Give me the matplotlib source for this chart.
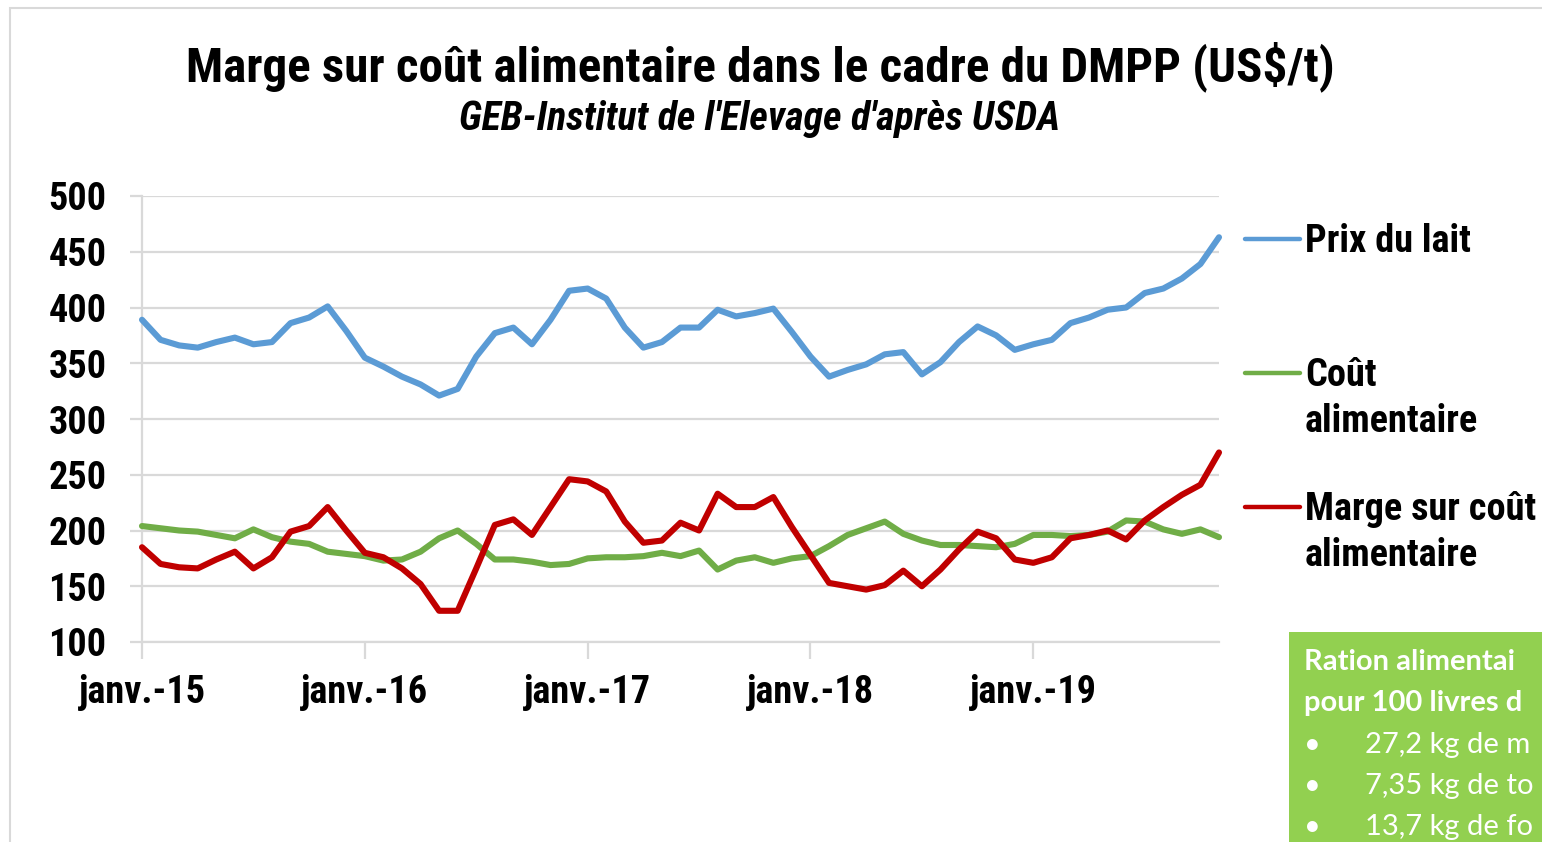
import matplotlib
matplotlib.use("Agg")
import matplotlib.pyplot as plt
from matplotlib import font_manager
from matplotlib.font_manager import FontProperties
from matplotlib.lines import Line2D
from matplotlib.patches import Rectangle

# ---------------- data ----------------
tick_labels = ["janv.-15", "janv.-16", "janv.-17", "janv.-18", "janv.-19"]
n_months = 59  # janv.-15 .. nov.-19

prix_lait = [389, 371, 366, 364, 369, 373, 367, 369, 386, 391, 401, 379,
             355, 347, 338, 331, 321, 327, 356, 377, 382, 367, 389, 415,
             417, 408, 382, 364, 369, 382, 382, 398, 392, 395, 399, 378,
             356, 338, 344, 349, 358, 360, 340, 351, 369, 383, 375, 362,
             367, 371, 386, 391, 398, 400, 413, 417, 426, 439, 463]

cout_alim = [204, 202, 200, 199, 196, 193, 201, 194, 190, 188, 181, 179,
             177, 173, 174, 181, 193, 200, 188, 174, 174, 172, 169, 170,
             175, 176, 176, 177, 180, 177, 182, 165, 173, 176, 171, 175,
             177, 186, 196, 202, 208, 197, 191, 187, 187, 186, 185, 188,
             196, 196, 195, 196, 199, 209, 208, 201, 197, 201, 194]

marge = [185, 170, 167, 166, 174, 181, 166, 176, 199, 204, 221, 200,
         180, 176, 166, 152, 128, 128, 166, 205, 210, 196, 221, 246,
         244, 235, 208, 189, 191, 207, 200, 233, 221, 221, 230, 203,
         178, 153, 150, 147, 151, 164, 150, 165, 183, 199, 193, 174,
         171, 176, 193, 196, 200, 192, 209, 221, 232, 241, 270]

series_names = ["Prix du lait", "Coût\nalimentaire", "Marge sur coût\nalimentaire"]
series_colors = ["#5B9BD5", "#70AD47", "#C00000"]

# the info box is cut by the right edge of the picture: only the visible part is shown
box_title = ["Ration alimentai", "pour 100 livres d"]
box_items = ["27,2 kg de m", "7,35 kg de to", "13,7 kg de fo"]

# ---------------- fonts ----------------
def find_narrow(bold=True, italic=False):
    prefs = ["Liberation Sans Narrow", "Arial Narrow", "Roboto Condensed",
             "Noto Sans Condensed", "Noto Sans", "DejaVu Sans Condensed",
             "DejaVu Sans", "Open Sans Condensed", "Open Sans"]
    cands = []
    for f in font_manager.fontManager.ttflist:
        fname = f.fname.lower()
        name = f.name
        if ("semicondensed" in fname or "extracondensed" in fname
                or "ultracondensed" in fname):
            continue
        is_narrow = ("narrow" in name.lower() or "condensed" in name.lower()
                     or "condensed" in str(f.stretch) or "narrow" in fname
                     or "condensed" in fname)
        if not is_narrow:
            continue
        w = f.weight if isinstance(f.weight, int) else font_manager.weight_dict.get(f.weight, 400)
        if bold and not (650 <= w <= 750):
            continue
        if not bold and w != 400:
            continue
        it = f.style in ("italic", "oblique")
        if it != italic:
            continue
        rank = len(prefs)
        for i, p in enumerate(prefs):
            if name == p:
                rank = i
                break
        cands.append((rank, f.fname))
    if cands:
        cands.sort()
        return cands[0][1]
    return None

p_b = find_narrow(True, False)
p_bi = find_narrow(True, True)

def fp(size, italic=False):
    path = p_bi if italic else p_b
    if path:
        return FontProperties(fname=path, size=size)
    return FontProperties(family=["Liberation Sans", "DejaVu Sans"], weight="bold",
                          style="italic" if italic else "normal", size=size * 0.85)

avail = {f.name for f in font_manager.fontManager.ttflist}
boxfam = ["Lato", "DejaVu Sans"] if "Lato" in avail else ["DejaVu Sans"]

W, H = 1542, 842
fig = plt.figure(figsize=(W / 100, H / 100), dpi=100)
fig.patch.set_facecolor("white")

def fx(px):
    return px / W

def fy(py):
    return 1 - py / H

# outer frame (runs off the right and bottom edges)
fig.add_artist(Rectangle((fx(10), -0.1), 2.0, 1.1 - 8 / H,
                         transform=fig.transFigure, fill=False,
                         edgecolor="#D9D9D9", linewidth=1.5))

ax = fig.add_axes([fx(142), fy(642), fx(1219 - 142), (642 - 196) / H])
x = list(range(n_months))
for vals, col in zip([prix_lait, cout_alim, marge], series_colors):
    ax.plot(x, vals, color=col, linewidth=4.4, solid_joinstyle="round",
            solid_capstyle="round", zorder=3, clip_on=False)

ax.set_xlim(0, n_months - 1)
ax.set_ylim(100, 500)
ax.set_yticks(range(100, 501, 50))
ax.set_xticks([0, 12, 24, 36, 48])
ax.set_xticklabels(tick_labels)
ax.grid(axis="y", color="#D9D9D9", linewidth=1.6, zorder=0)
for s in ["top", "right"]:
    ax.spines[s].set_visible(False)
ax.spines["left"].set_color("#D9D9D9")
ax.spines["left"].set_linewidth(1.6)
ax.spines["bottom"].set_color("#D9D9D9")
ax.spines["bottom"].set_linewidth(1.6)
ax.tick_params(axis="y", length=8.5, width=1.6, color="#D9D9D9", pad=17)
ax.tick_params(axis="x", length=12, width=1.6, color="#D9D9D9", pad=11)
for lab in ax.get_yticklabels() + ax.get_xticklabels():
    lab.set_fontproperties(fp(27.5))

# titles
fig.text(fx(760), fy(67), "Marge sur coût alimentaire dans le cadre du DMPP (US$/t)",
         ha="center", va="center", fontproperties=fp(35.3))
fig.text(fx(760), fy(119), "GEB-Institut de l'Elevage d'après USDA",
         ha="center", va="center", fontproperties=fp(28.8, italic=True))

# legend (manual)
leg_y = [239, 373, 507]
for name, col, yy in zip(series_names, series_colors, leg_y):
    fig.add_artist(Line2D([fx(1245), fx(1300)], [fy(yy), fy(yy)], color=col,
                          linewidth=3.2, solid_capstyle="round", transform=fig.transFigure))
    fig.text(fx(1305), fy(yy - 16), name, ha="left", va="top",
             fontproperties=fp(27.5), linespacing=1.3)

# green info box
fig.add_artist(Rectangle((fx(1289), 0), fx(300), (842 - 632) / H,
                         transform=fig.transFigure, facecolor="#92D050", edgecolor="none"))
fig.text(fx(1304), fy(662), box_title[0], ha="left", va="center", fontsize=21,
         fontweight="bold", color="white", family=boxfam)
fig.text(fx(1304), fy(703), box_title[1], ha="left", va="center", fontsize=21,
         fontweight="bold", color="white", family=boxfam)
for i, item in enumerate(box_items):
    yy = 745 + i * 41
    fig.text(fx(1304), fy(yy), "•", ha="left", va="center", fontsize=21,
             color="white", family=boxfam)
    fig.text(fx(1365), fy(yy), item, ha="left", va="center", fontsize=21,
             color="white", family=boxfam)

fig.savefig("out.png", dpi=100)
